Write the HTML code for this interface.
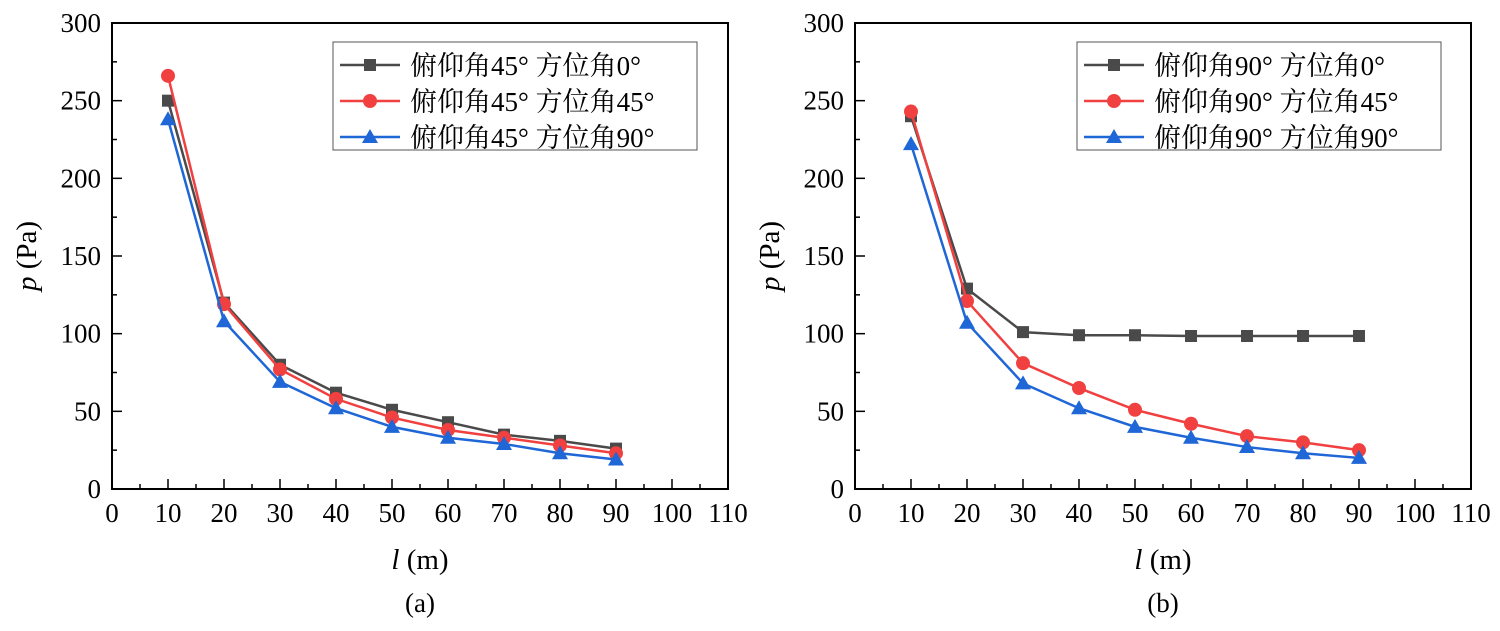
<!DOCTYPE html>
<html><head><meta charset="utf-8"><style>
body{margin:0;background:#fff}
text{font-family:"Liberation Serif","Noto Serif CJK SC",serif;fill:#000}
.cj{font-family:"Noto Serif CJK SC",serif}
.lt{font-family:"Liberation Serif",serif}
</style></head><body>
<svg id="s" width="1500" height="626" xmlns="http://www.w3.org/2000/svg"></svg>
<script>
const xCats=[10,20,30,40,50,60,70,80,90];
const xTicks=[0,10,20,30,40,50,60,70,80,90,100,110];
const yTicks=[0,50,100,150,200,250,300];
const a0=[250,120,80,62,51,43,35,31,26];
const a45=[266,119,77,58,46,38,33,28,23];
const a90=[238,108,69,52,40,33,29,23,19];
const b0=[240,129,101,99,99,98.5,98.5,98.5,98.5];
const b45=[243,121,81,65,51,42,34,30,25];
const b90=[222,107,68,52,40,33,27,23,20];
const labelsA=["俯仰角45° 方位角0°","俯仰角45° 方位角45°","俯仰角45° 方位角90°"];
const labelsB=["俯仰角90° 方位角0°","俯仰角90° 方位角45°","俯仰角90° 方位角90°"];
const colors=["#4a4a4a","#f04040","#1f66d6"];
const S=document.getElementById('s'),NS="http://www.w3.org/2000/svg";
function mk(t,at,p){const e=document.createElementNS(NS,t);for(const k in at)e.setAttribute(k,at[k]);(p||S).appendChild(e);return e;}
function marker(g,k,x,y,c){
 let m;
 if(k==0)m=mk('rect',{x:x-6,y:y-6,width:12,height:12,fill:c},g);
 else if(k==1)m=mk('circle',{cx:x,cy:y,r:7,fill:c},g);
 else m=mk('polygon',{points:`${x},${y-8} ${x+8},${y+6} ${x-8},${y+6}`,fill:c},g);
 
 
}
function panel(x0,series,labels,lx,tag,name){
 const top=23,bot=489,w=616;
 const X=v=>x0+v*w/110, Y=v=>bot-v*(bot-top)/300;
 const g=mk('g',{});
 
 
 const f=mk('rect',{x:x0,y:top,width:w,height:bot-top,fill:'none',stroke:'#000','stroke-width':2},g);
 
 for(let v=0;v<=110;v+=5){const maj=v%10==0;mk('line',{x1:X(v),x2:X(v),y1:bot,y2:bot-(maj?10:5),stroke:'#000','stroke-width':1.5},g);}
 xTicks.forEach(v=>{const t=mk('text',{x:X(v),y:bot+33,'text-anchor':'middle','font-size':27},g);t.textContent=v;
  });
 for(let v=0;v<=300;v+=25){const maj=v%50==0;mk('line',{x1:x0,x2:x0+(maj?10:5),y1:Y(v),y2:Y(v),stroke:'#000','stroke-width':1.5},g);}
 yTicks.forEach(v=>{const t=mk('text',{x:x0-11,y:Y(v)+9,'text-anchor':'end','font-size':27},g);t.textContent=v;
  });
 const yt=mk('text',{x:0,y:0,'font-size':29,'text-anchor':'middle',transform:`translate(${x0-76},${(top+bot)/2}) rotate(-90)`},g);
 yt.innerHTML='<tspan font-style="italic">p</tspan> (Pa)';
 
 const xt=mk('text',{x:X(55),y:bot+80,'font-size':29,'text-anchor':'middle'},g);
 xt.innerHTML='<tspan font-style="italic">l</tspan> (m)';
 
 const cp=mk('text',{x:X(55),y:bot+123,'font-size':27,'text-anchor':'middle'},g);cp.textContent=tag;
 
 series.forEach((d,k)=>{
  const pts=d.map((v,i)=>X(xCats[i])+','+Y(v)).join(' ');
  const l=mk('polyline',{points:pts,fill:'none',stroke:colors[k],'stroke-width':2.5},g);
  
  d.forEach((v,i)=>marker(g,k,X(xCats[i]),Y(v),colors[k]));
 });
 const lg=mk('g',{},g);
 
 mk('rect',{x:lx,y:42,width:364,height:108,fill:'#fff',stroke:'#555','stroke-width':1},lg);
 labels.forEach((s,k)=>{const yy=65+k*36;
  mk('line',{x1:lx+7,x2:lx+67,y1:yy,y2:yy,stroke:colors[k],'stroke-width':2.5},lg);
  marker(lg,k,lx+37,yy,colors[k]);
  const t=mk('text',{x:lx+77,y:yy+10,'font-size':27},lg);
  t.innerHTML=s.replace(/([^\x00-\xff]+)/g,m=>m=='°'?m:'<tspan class="cj">'+m+'</tspan>');
  });
}
panel(112,[a0,a45,a90],labelsA,333,'(a)','chart-a');
panel(855,[b0,b45,b90],labelsB,1077,'(b)','chart-b');
</script>
</body></html>
